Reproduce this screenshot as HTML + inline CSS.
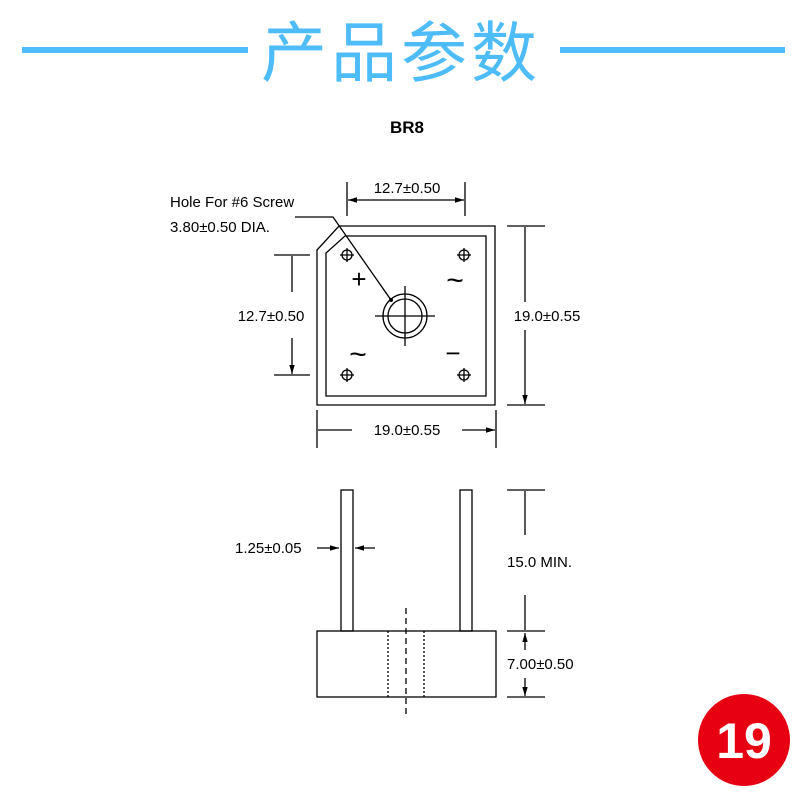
<!DOCTYPE html>
<html><head><meta charset="utf-8"><style>
body{margin:0;background:#fff;width:800px;height:800px;overflow:hidden;}
svg{display:block}
</style></head><body>
<svg width="800" height="800" viewBox="0 0 800 800" xmlns="http://www.w3.org/2000/svg">
<defs>
<marker id="a" viewBox="0 0 10 10" refX="10" refY="5" markerWidth="7" markerHeight="7" orient="auto-start-reverse"><path d="M0,2 L10,5 L0,8 z" fill="#000"/></marker>
</defs>
<rect x="22" y="47" width="226" height="6" fill="#4dbcf8"/>
<rect x="560" y="47" width="225" height="6" fill="#4dbcf8"/>
<text x="401" y="76" font-family="Liberation Sans, Noto Sans CJK SC, sans-serif" font-size="66" fill="#4dbcf8" text-anchor="middle" letter-spacing="4">产品参数</text>
<text x="407" y="133" font-family="Liberation Sans, sans-serif" font-size="17" font-weight="bold" text-anchor="middle">BR8</text>
<g stroke="#000" stroke-width="1.3" fill="none">
<path d="M339,226 L495,226 L495,405 L317,405 L317,250 Z"/>
<path d="M345,236 L486,236 L486,396 L326,396 L326,253 Z"/>
<circle cx="405" cy="316" r="22"/><circle cx="405" cy="316" r="17"/>
<path d="M405,286 V346 M375,316 H435"/>
<path d="M295,217 H333 L391,300" />
<path d="M340,255 h14 M347,248 v14 M457,255 h14 M464,248 v14 M340,375 h14 M347,368 v14 M457,375 h14 M464,368 v14"/>
<circle cx="347" cy="255" r="5"/><circle cx="464" cy="255" r="5"/><circle cx="347" cy="375" r="5"/><circle cx="464" cy="375" r="5"/>
<path d="M347,182 V216 M465,182 V216"/>
<path d="M348,200 H464" marker-start="url(#a)" marker-end="url(#a)"/>
<path d="M274,255 H310 M274,375 H310"/>
<path d="M292,292 V256 M292,338 V374" marker-end="url(#a)"/>
<path d="M507,226 H545 M507,405 H545"/>
<path d="M525,302 V227 M525,330 V404" marker-end="url(#a)"/>
<path d="M317,410 V448 M496,410 V448"/>
<path d="M352,430 H318 M462,430 H495" marker-end="url(#a)"/>
<rect x="341" y="490" width="12" height="141"/>
<rect x="460" y="490" width="12" height="141"/>
<rect x="317" y="631" width="179" height="66"/>
<path d="M388,631 V697 M424,631 V697" stroke-dasharray="2,2"/>
<path d="M406,608 V716" stroke-dasharray="6,4"/>
<path d="M507,490 H545 M507,631 H545 M507,697 H545"/>
<path d="M525,535 V491 M525,595 V630 M525,678 V696" marker-end="url(#a)"/>
<path d="M525,650 V633" marker-end="url(#a)"/>
<path d="M317,548 H339" marker-end="url(#a)"/>
<path d="M375,548 H355" marker-end="url(#a)"/>
</g>
<circle cx="391" cy="300" r="2" fill="#000"/>
<g font-family="Liberation Sans, sans-serif" font-size="15" fill="#000">
<text x="170" y="207">Hole For #6 Screw</text>
<text x="170" y="232">3.80±0.50 DIA.</text>
<text x="407" y="193" text-anchor="middle">12.7±0.50</text>
<text x="271" y="321" text-anchor="middle">12.7±0.50</text>
<text x="547" y="321" text-anchor="middle">19.0±0.55</text>
<text x="407" y="435" text-anchor="middle">19.0±0.55</text>
<text x="235" y="553">1.25±0.05</text>
<text x="507" y="567">15.0 MIN.</text>
<text x="507" y="669">7.00±0.50</text>
<text x="359" y="288" text-anchor="middle" font-size="26">+</text>
<text x="455" y="290" text-anchor="middle" font-size="30">~</text>
<text x="358" y="364" text-anchor="middle" font-size="30">~</text>
<text x="453" y="362" text-anchor="middle" font-size="26">−</text>
</g>
<circle cx="744" cy="740" r="46" fill="#e60012"/>
<text x="744" y="758" font-family="Liberation Sans, sans-serif" font-size="50" font-weight="bold" fill="#fff" text-anchor="middle">19</text>
</svg>
</body></html>
